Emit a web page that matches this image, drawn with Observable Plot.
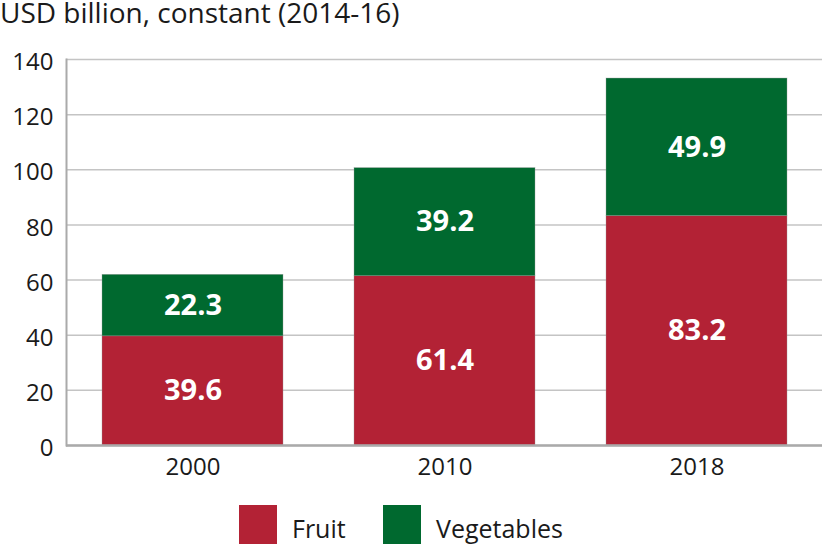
<!DOCTYPE html>
<html>
<head>
<meta charset="utf-8">
<script src="https://cdn.jsdelivr.net/npm/d3@7"></script>
<script src="https://cdn.jsdelivr.net/npm/@observablehq/plot@0.6"></script>
<style>
  html, body { margin: 0; padding: 0; background: #fff; }
  #wrap { position: relative; width: 822px; height: 544px; overflow: hidden; font-family: "Open Sans", sans-serif; color: #1a1a1a; }
  #title { position: absolute; left: 0; top: 0; font-size: 28px; line-height: 22px; white-space: nowrap; padding-top: 1px; }
  #chart { position: absolute; left: 0; top: 40px; }
  .item { position: absolute; top: 505px; display: flex; align-items: flex-start; font-size: 25px; line-height: 25px; }
  .sw { width: 38px; height: 40px; margin-right: 15px; }
  .lab { margin-top: 11px; }
</style>
</head>
<body>
<div id="wrap">
  <div id="title">USD billion, constant (2014-16)</div>
  <div id="chart"></div>
  <div id="legend"></div>
</div>
<script>
const years = ["2000", "2010", "2018"];
const fruit = [39.6, 61.4, 83.2];
const vegetables = [22.3, 39.2, 49.9];
const seriesNames = ["Fruit", "Vegetables"];
const seriesColors = ["#b32235", "#00692f"];
const yTicks = [0, 20, 40, 60, 80, 100, 120, 140];

const data = [];
years.forEach((yr, i) => {
  data.push({year: yr, series: "Fruit", value: fruit[i]});
  data.push({year: yr, series: "Vegetables", value: vegetables[i]});
});

const plot = Plot.plot({
  width: 822,
  height: 460,
  marginTop: 19,
  marginBottom: 55,
  marginLeft: 66,
  marginRight: 0,
  style: {fontFamily: "Open Sans, sans-serif", fontSize: "24px", color: "#1a1a1a", background: "#fff"},
  x: {domain: years, paddingInner: 0.282, paddingOuter: 0.141, label: null},
  y: {domain: [0, 140], label: null},
  color: {domain: seriesNames, range: seriesColors},
  marks: [
    Plot.gridY(yTicks, {stroke: "#c4c4c4", strokeOpacity: 1, strokeWidth: 1.5}),
    Plot.axisY(yTicks, {tickSize: 0, tickPadding: 13, fontSize: 24, label: null, dy: 3}),
    Plot.axisX({tickSize: 0, tickPadding: 12, fontSize: 24, label: null}),
    Plot.barY(data, {x: "year", y: "value", fill: "series", z: "series", order: seriesNames, stroke: "#999", strokeWidth: 0.6, strokeOpacity: 0.6}),
    Plot.text(data, Plot.stackY({x: "year", y: "value", z: "series", order: seriesNames, text: d => d.value.toFixed(1), fill: "white", fontWeight: "bold", fontSize: 29})),
    Plot.frame({anchor: "left", stroke: "#aaa", strokeWidth: 2}),
    Plot.ruleY([0], {stroke: "#aaa", strokeWidth: 2.5})
  ]
});
document.getElementById("chart").appendChild(plot);

const legend = document.getElementById("legend");
const legendLeft = [239, 383];
seriesNames.forEach((name, i) => {
  const item = document.createElement("div");
  item.className = "item";
  item.style.left = legendLeft[i] + "px";
  item.innerHTML = `<div class="sw" style="background:${seriesColors[i]}"></div><div class="lab">${name}</div>`;
  legend.appendChild(item);
});
</script>
</body>
</html>
